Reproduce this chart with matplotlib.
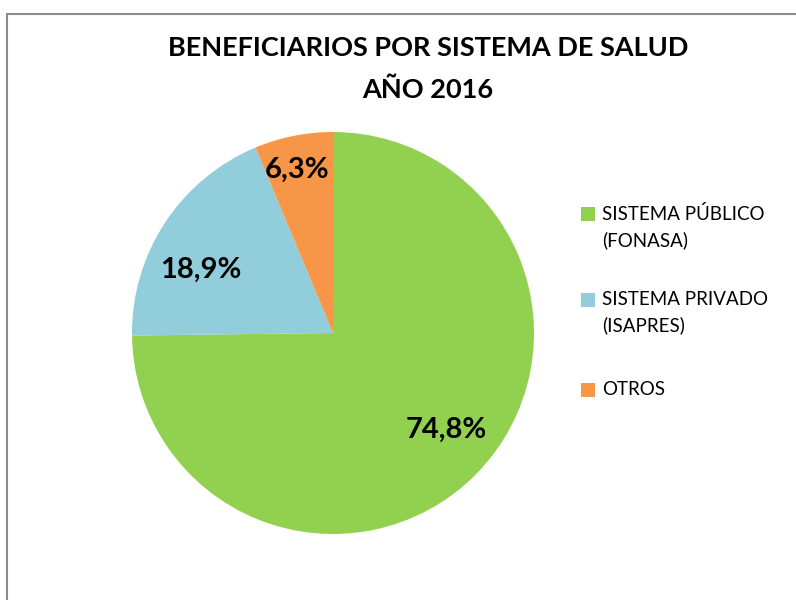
import numpy as np
import matplotlib.pyplot as plt
from matplotlib.patches import Rectangle

plt.rcParams['font.family'] = ['Lato', 'DejaVu Sans']

labels = ['SISTEMA PÚBLICO\n(FONASA)', 'SISTEMA PRIVADO\n(ISAPRES)', 'OTROS']
values = [74.8, 18.9, 6.3]
pct_text = ['74,8%', '18,9%', '6,3%']
colors = ['#92D050', '#92CDDC', '#F79646']

W, H = 796, 600
fig = plt.figure(figsize=(W / 100, H / 100), dpi=100)

# gray chart frame (only left and top edges visible)
fig.patches.append(Rectangle((7.5 / W, -0.5), 2.0, 1.5 - 13.5 / H,
                             transform=fig.transFigure, fill=False,
                             edgecolor='#8c8c8c', linewidth=1.5))

# pie axes: center (333,333) px, radius 201 px
cx, cy, r = 333, 333, 201
ax = fig.add_axes([(cx - r) / W, (H - cy - r) / H, 2 * r / W, 2 * r / H])
wedges, _ = ax.pie(values, colors=colors, startangle=90, counterclock=False,
                   radius=1.0, wedgeprops=dict(linewidth=0))
ax.set_xlim(-1, 1)
ax.set_ylim(-1, 1)
ax.set_aspect('equal')
ax.axis('off')

# data labels
dists = [0.74, 0.73, 0.83]
shifts = [4, 8, 1]
for w, t, d, s in zip(wedges, pct_text, dists, shifts):
    ang = np.deg2rad((w.theta1 + w.theta2) / 2 + s)
    ax.text(d * np.cos(ang), d * np.sin(ang), t, ha='center', va='center',
            fontsize=21, fontweight='bold', color='black')

fig.text(428 / W, 1 - 48 / H, 'BENEFICIARIOS POR SISTEMA DE SALUD',
         ha='center', va='center', fontsize=19.5, fontweight='bold')
fig.text(428 / W, 1 - 90 / H, 'AÑO 2016',
         ha='center', va='center', fontsize=19.5, fontweight='bold')

# legend drawn by hand: square aligned with the first text line
entry_y = [214, 300, 390]
for lab, c, y in zip(labels, colors, entry_y):
    fig.patches.append(Rectangle((581 / W, 1 - (y + 7) / H), 14 / W, 14 / H,
                                 transform=fig.transFigure, facecolor=c,
                                 edgecolor='none'))
    fig.text(602 / W, 1 - (y - 9) / H, lab, ha='left', va='top',
             fontsize=13.5, linespacing=1.55, color='black')

fig.savefig('out.png', dpi=100)
